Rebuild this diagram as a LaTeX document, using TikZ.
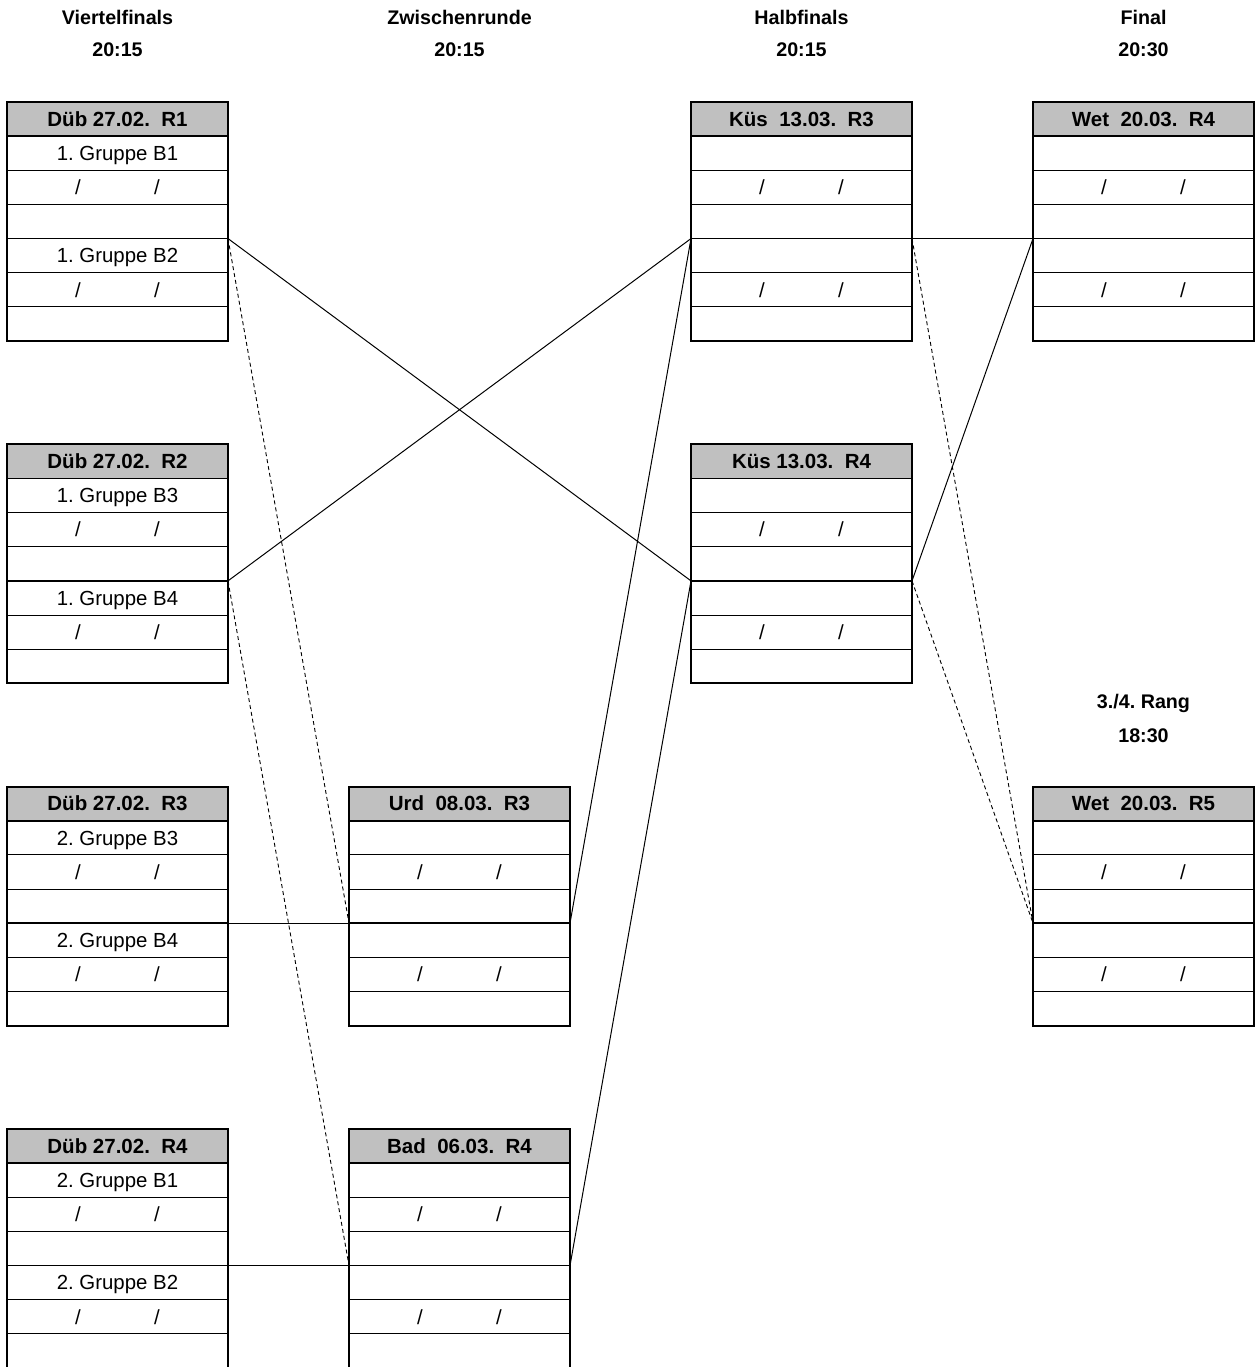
\documentclass[tikz,border=0pt]{standalone}
\usepackage{fontspec}
\setmainfont{Liberation Sans}
\definecolor{hdr}{RGB}{192,192,192}
\def\rh{34.143}
\def\bw{221}
\tikzset{
  rowline/.style={line width=1pt},
  midline/.style={line width=1.8pt},
  frame/.style={draw, line width=2pt, rectangle, minimum width=221pt, minimum height=239pt, inner sep=0pt, outer sep=0pt},
  celltext/.style={anchor=base, inner sep=0pt, font=\fontsize{20.4}{23}\selectfont},
  hdrtext/.style={anchor=base, inner sep=0pt, font=\fontsize{20.5}{23}\selectfont\bfseries},
  title/.style={anchor=base, inner sep=0pt, font=\fontsize{19.7}{22}\selectfont\bfseries},
  conn/.style={line width=1pt},
  dconn/.style={line width=0.9pt, dash pattern=on 4pt off 3pt},
}
\newcommand{\matchbox}[6]{%
  \fill[hdr] (#2,#3) rectangle (#2+\bw,#3+\rh);
  \foreach \i in {2,3,5,6} \draw[rowline] (#2,#3+\i*\rh) -- (#2+\bw,#3+\i*\rh);
  \draw[midline] (#2,#3+\rh) -- (#2+\bw,#3+\rh);
  \draw[midline] (#2,#3+4*\rh) -- (#2+\bw,#3+4*\rh);
  \node[frame, anchor=north west] (#1) at (#2,#3) {};
  \node[hdrtext] (#1-h) at (#2+\bw/2,#3+0.5*\rh+7.3) {#4};
  \node[celltext] (#1-t1) at (#2+\bw/2,#3+1.5*\rh+7.3) {#5};
  \node[celltext] (#1-s1) at (#2+71,#3+2.5*\rh+7.3) {/};
  \node[celltext] (#1-s2) at (#2+150,#3+2.5*\rh+7.3) {/};
  \node[celltext] (#1-t2) at (#2+\bw/2,#3+4.5*\rh+7.3) {#6};
  \node[celltext] (#1-s3) at (#2+71,#3+5.5*\rh+7.3) {/};
  \node[celltext] (#1-s4) at (#2+150,#3+5.5*\rh+7.3) {/};
  \coordinate (#1-l) at (#2,#3+4*\rh);
  \coordinate (#1-r) at (#2+\bw,#3+4*\rh);
}
\frenchspacing
\begin{document}
\frenchspacing
\begin{tikzpicture}[x=1pt,y=-1pt]
\useasboundingbox (0,0) rectangle (1257,1367);
\begin{scope}
\clip (0,0) rectangle (1257,1367);
% titles
\node[title] (t1a) at (117.5,25) {Viertelfinals};
\node[title] (t1b) at (117.5,57) {20:15};
\node[title] (t2a) at (459.5,25) {Zwischenrunde};
\node[title] (t2b) at (459.5,57) {20:15};
\node[title] (t3a) at (801.5,25) {Halbfinals};
\node[title] (t3b) at (801.5,57) {20:15};
\node[title] (t4a) at (1143.5,25) {Final};
\node[title] (t4b) at (1143.5,57) {20:30};
\node[title] (t5a) at (1143.5,708) {3./4. Rang};
\node[title] (t5b) at (1143.5,742) {18:30};
% boxes
\matchbox{q1}{7}{102}{Düb 27.02.\ \ R1}{1. Gruppe B1}{1. Gruppe B2}
\matchbox{q2}{7}{444.3}{Düb 27.02.\ \ R2}{1. Gruppe B3}{1. Gruppe B4}
\matchbox{q3}{7}{786.6}{Düb 27.02.\ \ R3}{2. Gruppe B3}{2. Gruppe B4}
\matchbox{q4}{7}{1129}{Düb 27.02.\ \ R4}{2. Gruppe B1}{2. Gruppe B2}
\matchbox{z1}{349}{786.6}{Urd\ \ 08.03.\ \ R3}{}{}
\matchbox{z2}{349}{1129}{Bad\ \ 06.03.\ \ R4}{}{}
\matchbox{h1}{691}{102}{Küs\ \ 13.03.\ \ R3}{}{}
\matchbox{h2}{691}{444.3}{Küs 13.03.\ \ R4}{}{}
\matchbox{f1}{1033}{102}{Wet\ \ 20.03.\ \ R4}{}{}
\matchbox{f2}{1033}{786.6}{Wet\ \ 20.03.\ \ R5}{}{}
% connectors
\draw[conn] (q1-r) -- (h2-l);
\draw[dconn] (q1-r) -- (z1-l);
\draw[conn] (q2-r) -- (h1-l);
\draw[dconn] (q2-r) -- (z2-l);
\draw[conn] (q3-r) -- (z1-l);
\draw[conn] (q4-r) -- (z2-l);
\draw[conn] (z1-r) -- (h1-l);
\draw[conn] (z2-r) -- (h2-l);
\draw[conn] (h1-r) -- (f1-l);
\draw[dconn] (h1-r) -- (f2-l);
\draw[conn] (h2-r) -- (f1-l);
\draw[dconn] (h2-r) -- (f2-l);
\end{scope}
\end{tikzpicture}
\end{document}
